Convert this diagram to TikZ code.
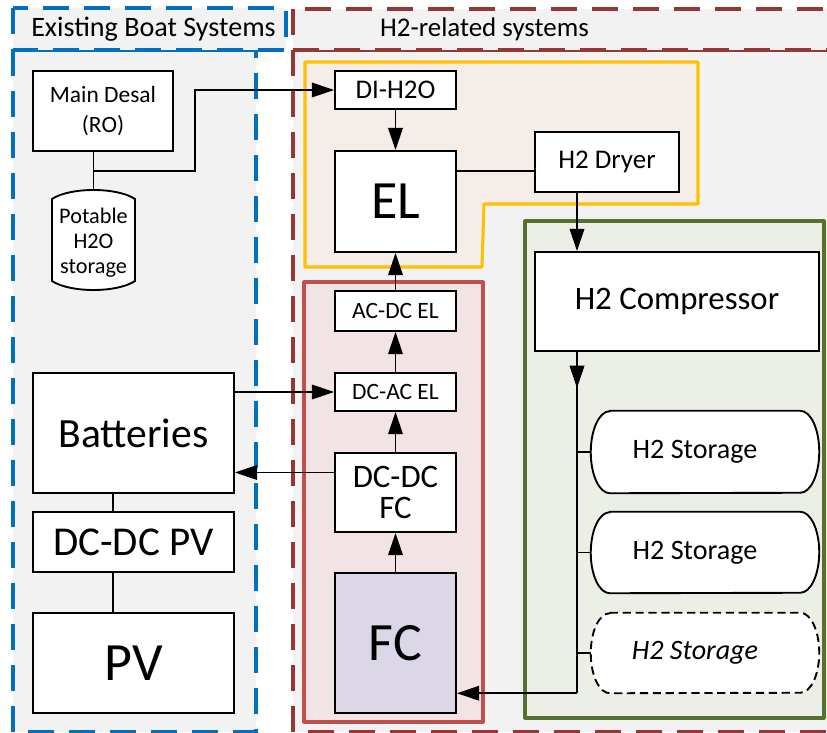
\documentclass[tikz,border=0pt]{standalone}
\usepackage{fontspec}
\setmainfont{Carlito}
\usetikzlibrary{arrows.meta,calc}
\pgfdeclarelayer{background}
\pgfdeclarelayer{shapes}
\pgfsetlayers{background,shapes,main}
\definecolor{bggray}{HTML}{F2F2F2}
\definecolor{bluedash}{HTML}{0070C0}
\definecolor{reddash}{HTML}{953735}
\definecolor{yelline}{HTML}{FFC000}
\definecolor{yelfill}{HTML}{F5EEE8}
\definecolor{redline}{HTML}{C0504D}
\definecolor{redfill}{HTML}{F2E4E4}
\definecolor{grnline}{HTML}{56702E}
\definecolor{grnfill}{HTML}{ECEFE6}
\definecolor{fcfill}{HTML}{DCD7E6}
\tikzset{
  x=0.03cm, y=0.03cm,
  blk/.style={draw=black, line width=1.6pt, fill=white, inner sep=0pt, align=center, text=black},
  conn/.style={line width=1.5pt, draw=black},
  arrow/.style={conn, -{Triangle[length=19pt,width=12.5pt]}},
  groupdash/.style={line width=2.6pt, dash pattern=on 22pt off 13pt, fill=bggray},
  storeshape/.style={draw=black, line width=1.6pt, fill=white},
}
\begin{document}
\begin{tikzpicture}
\useasboundingbox (0,0) rectangle (827,-733);
\clip (0,0) rectangle (827,-733);

% ---------- nodes ----------
\node[blk, minimum width=4.2cm, minimum height=2.4cm, font=\fontsize{20}{25.5}\selectfont] (desal) at (103,-111) {Main Desal\\(RO)};
\node[inner sep=0pt, minimum width=2.49cm, minimum height=3.18cm, align=center, font=\fontsize{19}{21.3}\selectfont] (pot) at (93.5,-243) {Potable\\H2O\\storage};

\node[blk, minimum width=3.63cm, minimum height=1.14cm, font=\fontsize{23}{27}\selectfont] (di) at (395.5,-90) {DI-H2O};
\node[blk, minimum width=3.63cm, minimum height=3.03cm, font=\fontsize{46}{50}\selectfont] (el) at (395.5,-201.5) {EL};
\node[blk, minimum width=4.32cm, minimum height=1.8cm, font=\fontsize{23}{27}\selectfont] (dryer) at (607,-162) {H2 Dryer};

\node[blk, minimum width=3.63cm, minimum height=1.2cm, font=\fontsize{20}{24}\selectfont] (acdc) at (395.5,-311) {AC-DC EL};
\node[blk, minimum width=3.63cm, minimum height=1.14cm, font=\fontsize{20}{24}\selectfont] (dcac) at (395.5,-392) {DC-AC EL};
\node[blk, minimum width=3.63cm, minimum height=2.37cm, font=\fontsize{28}{26}\selectfont] (dcfc) at (395.5,-492.5) {DC-DC\\FC};
\node[blk, fill=fcfill, minimum width=3.63cm, minimum height=4.2cm, font=\fontsize{46}{50}\selectfont] (fc) at (395.5,-643) {FC};

\node[blk, minimum width=6.03cm, minimum height=3.6cm, font=\fontsize{35.5}{40}\selectfont] (bat) at (133.5,-433) {Batteries};
\node[blk, minimum width=6.03cm, minimum height=1.8cm, font=\fontsize{35}{40}\selectfont] (dcpv) at (133.5,-542) {DC-DC PV};
\node[blk, minimum width=6.03cm, minimum height=3cm, font=\fontsize{46}{50}\selectfont] (pv) at (133.5,-663) {PV};

\node[blk, minimum width=8.52cm, minimum height=2.97cm, font=\fontsize{28}{32}\selectfont] (comp) at (677,-301.5) {H2 Compressor};

\node[inner sep=0pt, minimum width=6.84cm, minimum height=2.46cm, font=\fontsize{24}{28}\selectfont] (s1) at (705,-452) {\hspace*{-0.6cm}H2 Storage};
\node[inner sep=0pt, minimum width=6.84cm, minimum height=2.43cm, font=\fontsize{24}{28}\selectfont] (s2) at (705,-552.5) {\hspace*{-0.6cm}H2 Storage};
\node[inner sep=0pt, minimum width=6.84cm, minimum height=2.4cm, font=\fontsize{24}{28}\selectfont\itshape] (s3) at (705,-653) {\hspace*{-0.6cm}H2 Storage};

\node[font=\fontsize{24}{28}\selectfont, inner sep=0pt] (t1) at (153.5,-29) {Existing Boat Systems};
\node[font=\fontsize{23}{27}\selectfont, inner sep=0pt] (t2) at (484.5,-29) {H2-related systems};

% ---------- background groups ----------
\begin{pgfonlayer}{background}
  \path[groupdash, draw=bluedash] (13,-50) rectangle (256,-732);
  \path[groupdash, draw=bluedash] (13,-8) rectangle (286,-50);
  \path[groupdash, draw=reddash] (293,-50) rectangle (845,-732);
  \path[groupdash, draw=reddash] (293,-9) rectangle (845,-50);
  \path[draw=yelline, fill=yelfill, line width=2.6pt, line join=round]
     (305,-62) -- (698,-62) -- (698,-204) -- (484,-204) -- (482,-267) -- (305,-267) -- cycle;
  \path[draw=redline, fill=redfill, line width=2.6pt, line join=round] (304,-282) rectangle (483,-722);
  \path[draw=grnline, fill=grnfill, line width=2.6pt, line join=round] (525,-221) rectangle (824,-718);
\end{pgfonlayer}

% ---------- custom outlines ----------
\begin{pgfonlayer}{shapes}
% potable water tank
\draw[storeshape] (52,-199) .. controls (70,-187) and (117,-187) .. (135,-199)
   -- (135,-281) .. controls (117,-293) and (70,-293) .. (52,-281) -- cycle;
% H2 storages
\foreach \s/\ry in {s1/1.23cm, s2/1.215cm}{
  \draw[storeshape] ([xshift=0.57cm]\s.north west) -- ([xshift=-0.57cm]\s.north east)
     arc[start angle=90, end angle=-90, x radius=0.57cm, y radius=\ry]
     -- ([xshift=0.57cm]\s.south west)
     arc[start angle=270, end angle=90, x radius=0.57cm, y radius=\ry] -- cycle;
}
\draw[storeshape, dash pattern=on 7pt off 4pt] ([xshift=0.57cm]s3.north west) -- ([xshift=-0.57cm]s3.north east)
     arc[start angle=90, end angle=-90, x radius=0.57cm, y radius=1.2cm]
     -- ([xshift=0.57cm]s3.south west)
     arc[start angle=270, end angle=90, x radius=0.57cm, y radius=1.2cm] -- cycle;
\end{pgfonlayer}

% ---------- coordinates ----------
\coordinate (j1) at (94,-171);
\coordinate (j2) at (195,-171);
\coordinate (busx) at (577,0);
\coordinate (pvx) at (113,0);
\coordinate (elout) at ([yshift=-0.27cm]dryer.west);
\coordinate (dcfcout) at ([yshift=0.6cm]dcfc.west);
\coordinate (busmid) at (577,-388);

% ---------- connectors ----------
\draw[conn] (pot.north |- desal.south) -- (pot.north);
\draw[arrow] (j1) -- (j2) |- (di.west);
\draw[arrow] (di.south) -- (el.north);
\draw[conn] (elout -| el.east) -- (elout);
\draw[arrow] (dryer.south -| busx) -- (comp.north -| busx);
\draw[conn] (comp.south -| busx) -- (busx |- s3.south);
\draw[arrow] (comp.south -| busx) -- (busmid);
\draw[conn] (busx |- s1.west) -- (s1.west);
\draw[conn] (busx |- s2.west) -- (s2.west);
\draw[conn] (busx |- s3.west) -- (s3.west);
\draw[arrow] (busx |- s3.south) -- (fc.east |- s3.south);
\draw[arrow] (fc.north) -- (dcfc.south);
\draw[arrow] (dcfc.north) -- (dcac.south);
\draw[arrow] (dcac.north) -- (acdc.south);
\draw[arrow] (acdc.north) -- (el.south);
\draw[arrow] (bat.east |- dcac.west) -- (dcac.west);
\draw[arrow] (dcfcout) -- (dcfcout -| bat.east);
\draw[conn] (bat.south -| pvx) -- (dcpv.north -| pvx);
\draw[conn] (dcpv.south -| pvx) -- (pv.north -| pvx);
\end{tikzpicture}
\end{document}
